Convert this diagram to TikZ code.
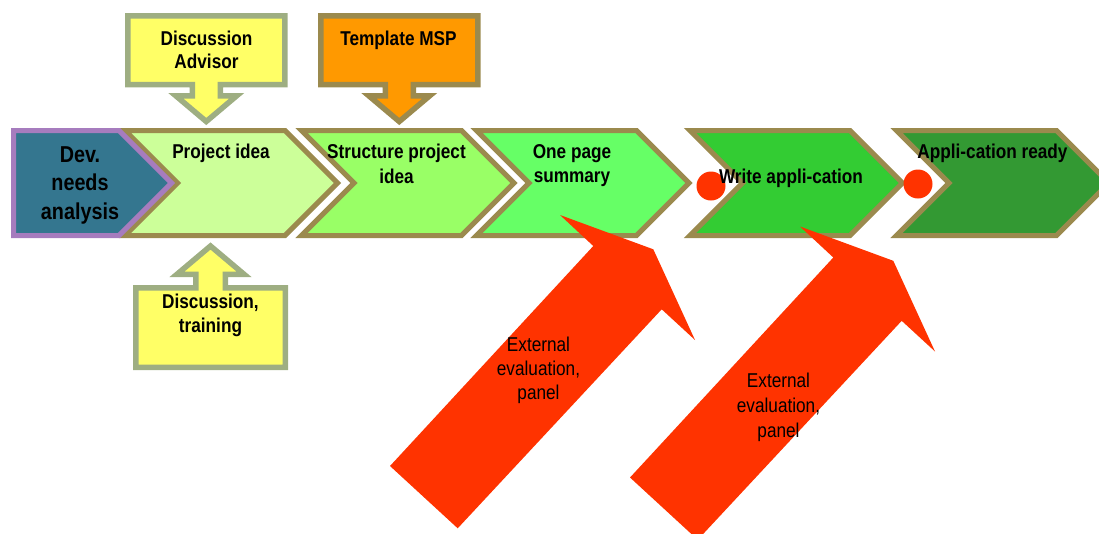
\documentclass[tikz,border=0pt]{standalone}
\usepackage{fontspec}
\setmainfont{Liberation Sans}[FakeStretch=0.86]
\usetikzlibrary{positioning}
\definecolor{chevline}{RGB}{155,138,78}
\definecolor{sageline}{RGB}{158,174,130}
\definecolor{devline}{RGB}{166,124,190}
\definecolor{devfill}{RGB}{52,118,143}
\definecolor{notefill}{RGB}{255,255,102}
\definecolor{mspfill}{RGB}{255,153,0}
\definecolor{evalred}{RGB}{255,51,0}
\definecolor{ideafill}{HTML}{CCFF99}
\definecolor{structfill}{HTML}{99FF66}
\definecolor{summfill}{HTML}{66FF66}
\definecolor{writefill}{HTML}{33CC33}
\definecolor{readyfill}{HTML}{339933}

\begin{document}
\begin{tikzpicture}[x=1pt,y=-1pt,
    lbl/.style={font=\bfseries\fontsize{20}{24}\selectfont,align=center,anchor=base,inner sep=0},
    evallbl/.style={font=\fontsize{20}{24}\selectfont,align=center,anchor=base,inner sep=0}]

  \tikzset{
    pics/chevron/.style args={#1/#2}{code={
      \draw[line width=5pt,draw=chevline,fill=#2]
        (0,0) -- ++(#1,0) -- ++(52.5,52.5) -- ++(-52.5,52.5)
        -- ++(-#1,0) -- ++(52.5,-52.5) -- cycle;
      },
    }
  }
  \tikzset{
    pics/callout/.style args={#1/#2}{code={
      \draw[line width=5.5pt,draw=#2,fill=#1]
        (0,0) -- ++(157,0) -- ++(0,68.75) -- ++(-64.5,0) -- ++(0,11.25)
        -- ++(16.5,0) -- ++(-30.5,25.75) -- ++(-30.5,-25.75) -- ++(16.5,0)
        -- ++(0,-11.25) -- ++(-64.5,0) -- cycle;
      },
    }
  }
  \tikzset{
    pics/evalarrow/.style={code={
      \fill[evalred] (0,0) -- (203.3,-220) -- (170,-251) -- (263.3,-216.7)
        -- (305,-126) -- (271.7,-156.7) -- (67.7,62.3) -- cycle;
      },
    }
  }
  \useasboundingbox (0,0) rectangle (1099,533);
  %CHEVRONS
  \foreach \x/\c in {125/ideafill,301.5/structfill,476.5/summfill,690/writefill,896.5/readyfill}{
    \draw (\x,130.5) pic {chevron={160/\c}};
  }
  %START BOX
  \draw[line width=5pt,draw=devline,fill=devfill]
    (13.5,130.5) -- (119,130.5) -- (171.5,183) -- (119,235.5) -- (13.5,235.5) -- cycle;
  %CALLOUTS
  \foreach \x/\f/\l in {127.75/notefill/sageline,320.75/mspfill/chevline}{
    \draw (\x,15.75) pic {callout={\f/\l}};
  }
  \draw[line width=5.5pt,draw=sageline,fill=notefill]
    (135.75,367.25) -- ++(149.5,0) -- ++(0,-79.5) -- ++(-60,0) -- ++(0,-13.5)
    -- ++(18.75,0) -- ++(-33.5,-28.25) -- ++(-33.5,28.25) -- ++(18.75,0)
    -- ++(0,13.5) -- ++(-60,0) -- cycle;
  %EVALUATION
  \foreach \x/\y in {390/466,630/477.5}{
    \draw (\x,\y) pic {evalarrow};
  }
  \node[circle,fill=evalred,minimum size=29pt,inner sep=0] (gate1) at (711,186) {};
  \node[circle,fill=evalred,minimum size=29pt,inner sep=0] (gate2) at (918,184) {};
  %LABELS (base = last line)
  \node[lbl,font=\bfseries\fontsize{23}{28.5}\selectfont] (dev) at (80,219) {Dev.\\needs\\analysis};
  \node[lbl] (idea) at (221,158) {Project idea};
  \node[lbl,font=\bfseries\fontsize{20}{25}\selectfont] (struct) at (396.5,183) {Structure project\\idea};
  \node[lbl] (summary) at (572,182) {One page\\summary};
  \node[lbl] (write) at (791,183) {Write appli-cation};
  \node[lbl] (ready) at (992.5,158) {Appli-cation ready};
  \node[lbl,font=\bfseries\fontsize{20}{23}\selectfont] (advisor) at (206.5,68) {Discussion\\Advisor};
  \node[lbl] (template) at (398.5,45) {Template MSP};
  \node[lbl] (training) at (210.5,332) {Discussion,\\training};
  \node[evallbl] (eval1) at (538.5,399) {External\\evaluation,\\panel};
  \node[evallbl,font=\fontsize{20}{25}\selectfont] (eval2) at (778.5,437) {External\\evaluation,\\panel};
\end{tikzpicture}
\end{document}
